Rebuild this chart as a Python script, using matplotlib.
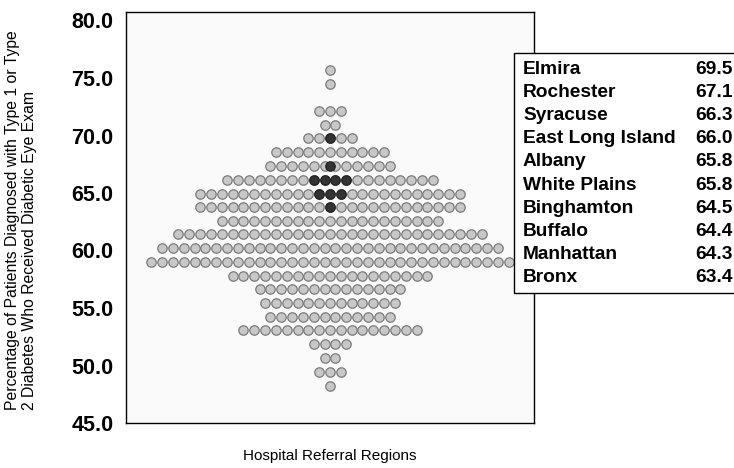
import numpy as np
import matplotlib.pyplot as plt
from matplotlib.patches import Rectangle

# rows of the dot plot (percentage value of each row) and number of regions per row
row_values = [75.7, 74.5, 73.35, 72.1, 70.9, 69.75, 68.55, 67.35, 66.15, 64.95, 63.8, 62.6,
              61.45, 60.2, 59.0, 57.8, 56.65, 55.4, 54.25, 53.05, 51.85, 50.65, 49.45, 48.25]
row_counts = [1, 1, 0, 3, 2, 5, 11, 12, 20, 25, 25, 21,
              29, 32, 34, 19, 14, 13, 12, 17, 4, 2, 3, 1]
# highlighted (New York) regions falling in each row
dark_counts = [0, 0, 0, 0, 0, 1, 0, 1, 4, 3, 1, 0,
               0, 0, 0, 0, 0, 0, 0, 0, 0, 0, 0, 0]

regions = ["Elmira", "Rochester", "Syracuse", "East Long Island", "Albany",
           "White Plains", "Binghamton", "Buffalo", "Manhattan", "Bronx"]
region_values = [69.5, 67.1, 66.3, 66.0, 65.8, 65.8, 64.5, 64.4, 64.3, 63.4]

yticks = [45, 50, 55, 60, 65, 70, 75, 80]

W, H = 734, 468
fig = plt.figure(figsize=(W / 100, H / 100), dpi=100)
ax = fig.add_axes([126 / W, 45 / H, 408 / W, (423 - 12) / H])
ax.set_facecolor("#fafafa")

gx, gy = [], []
for y, n in zip(row_values, row_counts):
    offs = np.arange(n) - (n - 1) / 2
    gx.extend(offs)
    gy.extend([y] * n)
ax.scatter(gx, gy, s=46, c="#c8c8c8", edgecolors="#7a7a7a", linewidths=0.9, zorder=2)

dx, dy = [], []
for y, k in zip(row_values, dark_counts):
    offs = np.arange(k) - (k - 1) / 2
    dx.extend(offs)
    dy.extend([y] * k)
ax.scatter(dx, dy, s=46, c="#333333", edgecolors="#222222", linewidths=0.9, zorder=3)

half = 408 / 10.83 / 2
ax.set_xlim(-half, half)
ax.set_ylim(45, 45 + (423 - 12) / 11.5)
ax.set_xticks([])
ax.set_yticks(yticks)
ax.set_yticklabels([f"{v:.1f}" for v in yticks], fontfamily="Liberation Sans",
                   fontweight="bold", fontsize=15.5)
ax.tick_params(axis="y", length=0, pad=9)
for sp in ax.spines.values():
    sp.set_linewidth(1.0)
    sp.set_color("black")

fig.text(21 / W, (H - 410) / H,
         "Percentage of Patients Diagnosed with Type 1 or Type\n2 Diabetes Who Received Diabetic Eye Exam",
         rotation=90, ha="center", va="bottom", multialignment="left",
         family="Liberation Sans", fontsize=11.3, linespacing=1.12)
fig.text(330 / W, (H - 456) / H, "Hospital Referral Regions", ha="center", va="center",
         family="Liberation Sans", fontsize=11)

# region list box
box = Rectangle((514 / W, (H - 293) / H), 1.0, (293 - 53) / H, transform=fig.transFigure,
                facecolor="white", edgecolor="black", linewidth=1.0, zorder=5)
fig.patches.append(box)
for i, (name, val) in enumerate(zip(regions, region_values)):
    ty = (H - 69 - i * 23.2) / H
    fig.text(523 / W, ty, name, ha="left", va="center", family="Liberation Sans",
             fontweight="bold", fontsize=13.8, zorder=6)
    fig.text(733 / W, ty, f"{val:.1f}", ha="right", va="center", family="Liberation Sans",
             fontweight="bold", fontsize=13.8, zorder=6)

fig.savefig("out.png", dpi=100)
